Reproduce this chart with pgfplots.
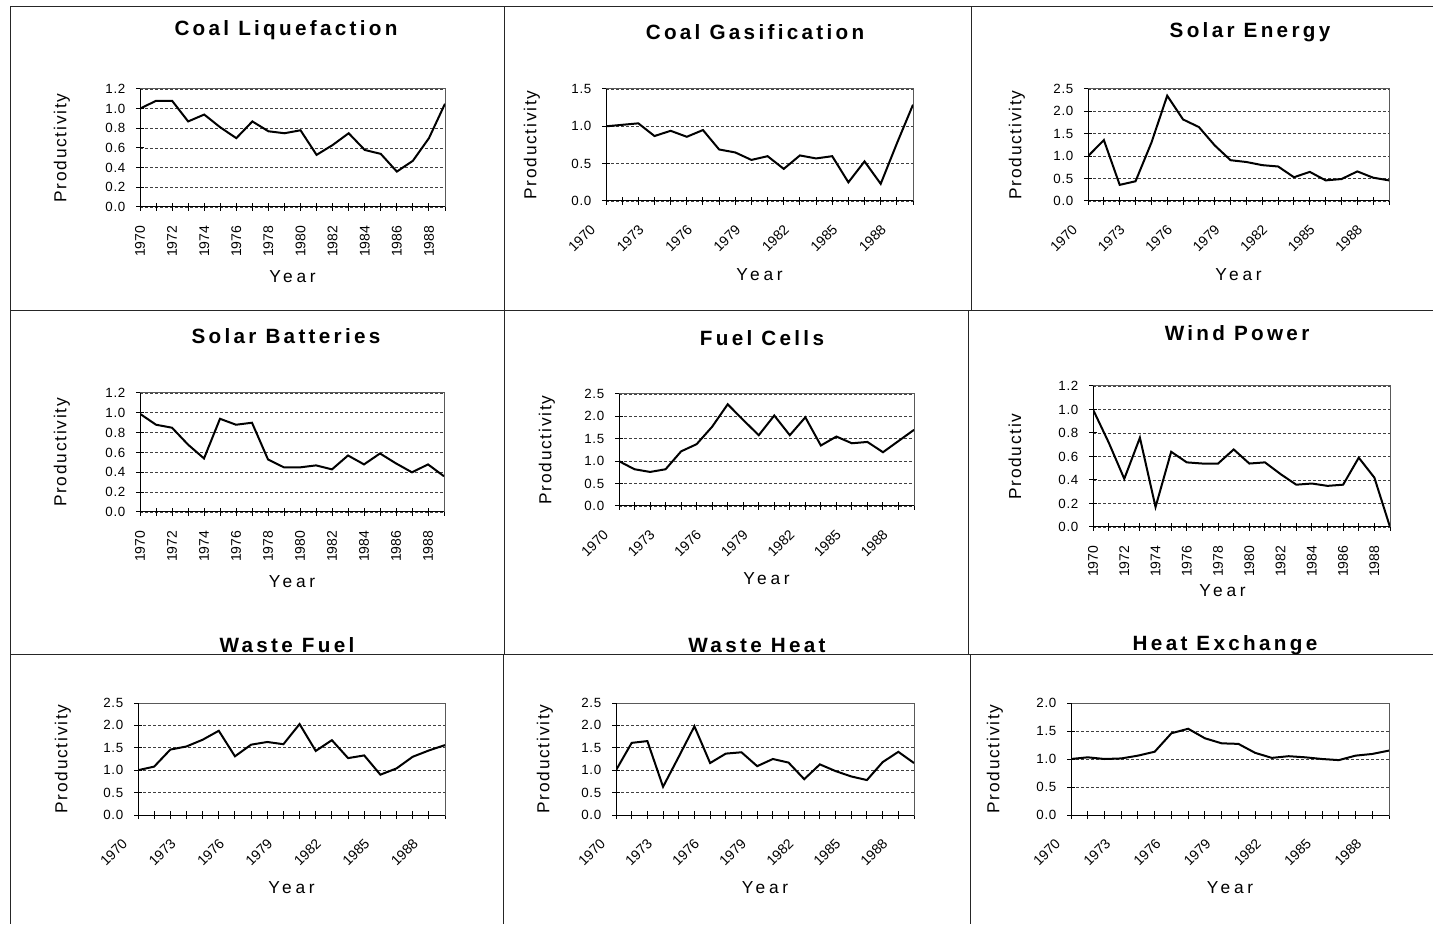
\documentclass[border=0pt]{standalone}
\usepackage{fontspec}
\setmainfont{Liberation Sans}
\newfontfamily\ttlfont[LetterSpace=16]{Liberation Sans}
\newfontfamily\labfont[LetterSpace=10]{Liberation Sans}
\newfontfamily\yearfont[LetterSpace=22]{Liberation Sans}
\newfontfamily\tckfont[LetterSpace=5]{Liberation Sans}
\usepackage{pgfplots}
\pgfplotsset{compat=1.18}
\usetikzlibrary{calc}
\newlength\pxu \setlength\pxu{0.75pt}
\pgfplotsset{
 panel/.style={
  scale only axis, xmin=1970, xmax=1989, ymin=0,
  axis line style={gray!70!black, line width=1\pxu},
  tick align=center, tick pos=left, major tick length=8\pxu, minor tick length=8\pxu,
  every tick/.style={black, line width=1\pxu},
  every minor tick/.style={black, line width=1\pxu},
  ymajorgrids,
  major grid style={black!75, dash pattern=on 3\pxu off 2\pxu, line width=0.8\pxu},
  yticklabel style={font=\tckfont\fontsize{10}{12}\selectfont, xshift=-6\pxu, /pgf/number format/fixed, /pgf/number format/fixed zerofill, /pgf/number format/precision=1, /pgf/number format/assume math mode=true},
  xticklabel style={font=\fontsize{10.5}{12}\selectfont, /pgf/number format/1000 sep={}, /pgf/number format/assume math mode=true},
  ylabel={Productivity}, xlabel={Year},
  ylabel style={font=\labfont\fontsize{13}{15}\selectfont},
  xlabel style={font=\yearfont\fontsize{13}{15}\selectfont},
  cycle list={{black, mark=none}},
  every axis plot/.append style={line width=1.5pt},
 },
 rotA/.style={xticklabel style={xshift=-10\pxu, yshift=-19\pxu, rotate=45, anchor=east}},
 rotB/.style={xticklabel style={yshift=-10\pxu, rotate=90, anchor=east}},
 every2/.style={xtick={1970,1972,...,1988}, minor xtick={1971,1973,...,1989}},
 every3/.style={xtick={1970,1973,...,1988}, minor xtick={1971,1972,1974,1975,1977,1978,1980,1981,1983,1984,1986,1987,1989}},
 ylabx/.style={ylabel style={at={($(axis description cs:0,0.5)+(-#1\pxu,0)$)}, anchor=center}},
 xlaby/.style 2 args={xlabel style={at={($(axis description cs:0.5,0)+(#2\pxu,-#1\pxu)$)}, anchor=center}},
 tA/.style={ytick={0,0.2,0.4,0.6,0.8,1.0,1.2}, ymax=1.2},
 tB/.style={ytick={0,0.5,1.0,1.5,2.0,2.5}},
}
\newcommand{\blackframe}{\draw[black, line width=1\pxu] (rel axis cs:0,1) -- (rel axis cs:0,0) -- (rel axis cs:1,0);}
\begin{document}
\begin{tikzpicture}
\path[use as bounding box] (0,0) rectangle (1433\pxu,924\pxu);
% panel borders
\begin{scope}[line width=1\pxu, black!85]
\draw (10\pxu,917\pxu) -- (1433\pxu,917\pxu);
\draw (10\pxu,613\pxu) -- (1433\pxu,613\pxu);
\draw (10\pxu,269\pxu) -- (1433\pxu,269\pxu);
\draw (10\pxu,917\pxu) -- (10\pxu,0);
\draw (504\pxu,917\pxu) -- (504\pxu,269\pxu);
\draw (503\pxu,269\pxu) -- (503\pxu,0);
\draw (971\pxu,917\pxu) -- (971\pxu,613\pxu);
\draw (968\pxu,613\pxu) -- (968\pxu,269\pxu);
\draw (970\pxu,269\pxu) -- (970\pxu,0);
\end{scope}
% titles
\begin{scope}[every node/.style={font=\ttlfont\bfseries\fontsize{15.5}{18}\selectfont}]
\node at (286\pxu,894\pxu) {Coal Liquefaction};
\node at (755\pxu,892\pxu) {Coal Gasification};
\node at (1250\pxu,892\pxu) {Solar Energy};
\node at (286\pxu,588\pxu) {Solar Batteries};
\node at (762\pxu,586\pxu) {Fuel Cells};
\node at (1237\pxu,591\pxu) {Wind Power};
\node at (287\pxu,279\pxu) {Waste Fuel};
\node at (757\pxu,279\pxu) {Waste Heat};
\node at (1225\pxu,279\pxu) {Heat Exchange};
\end{scope}
% P1 Coal Liquefaction
\begin{axis}[panel, tA, rotB, every2, ylabx=78, xlaby={70}{0}, at={(140\pxu,717\pxu)}, width=305\pxu, height=118\pxu]
\addplot coordinates {(1970,1.00)(1971,1.08)(1972,1.08)(1973,0.87)(1974,0.94)(1975,0.81)(1976,0.70)(1977,0.87)(1978,0.77)(1979,0.75)(1980,0.78)(1981,0.53)(1982,0.63)(1983,0.75)(1984,0.58)(1985,0.54)(1986,0.36)(1987,0.47)(1988,0.70)(1989,1.05)};
\blackframe
\end{axis}
% P2 Coal Gasification
\begin{axis}[panel, ytick={0,0.5,1.0,1.5}, ymax=1.5, rotA, every3, ylabx=74, xlaby={74}{0}, at={(606\pxu,723\pxu)}, width=307\pxu, height=112\pxu]
\addplot coordinates {(1970,1.00)(1971,1.02)(1972,1.04)(1973,0.87)(1974,0.94)(1975,0.86)(1976,0.95)(1977,0.69)(1978,0.65)(1979,0.55)(1980,0.60)(1981,0.43)(1982,0.61)(1983,0.57)(1984,0.60)(1985,0.25)(1986,0.53)(1987,0.23)(1988,0.77)(1989,1.29)};
\blackframe
\end{axis}
% P3 Solar Energy
\begin{axis}[panel, tB, ymax=2.5, rotA, every3, ylabx=71, xlaby={74}{0}, at={(1088\pxu,723\pxu)}, width=301\pxu, height=112\pxu]
\addplot coordinates {(1970,1.00)(1971,1.36)(1972,0.36)(1973,0.44)(1974,1.30)(1975,2.35)(1976,1.82)(1977,1.65)(1978,1.24)(1979,0.91)(1980,0.87)(1981,0.80)(1982,0.77)(1983,0.53)(1984,0.65)(1985,0.46)(1986,0.49)(1987,0.66)(1988,0.52)(1989,0.46)};
\blackframe
\end{axis}
% P4 Solar Batteries
\begin{axis}[panel, tA, rotB, every2, ylabx=78, xlaby={70}{0}, at={(140\pxu,412\pxu)}, width=304\pxu, height=119\pxu]
\addplot coordinates {(1970,0.99)(1971,0.88)(1972,0.85)(1973,0.68)(1974,0.54)(1975,0.94)(1976,0.88)(1977,0.90)(1978,0.53)(1979,0.45)(1980,0.45)(1981,0.47)(1982,0.43)(1983,0.57)(1984,0.48)(1985,0.59)(1986,0.49)(1987,0.40)(1988,0.48)(1989,0.36)};
\blackframe
\end{axis}
% P5 Fuel Cells
\begin{axis}[panel, tB, ymax=2.5, rotA, every3, ylabx=72, xlaby={73}{0}, at={(619\pxu,418\pxu)}, width=295\pxu, height=112\pxu]
\addplot coordinates {(1970,1.00)(1971,0.82)(1972,0.76)(1973,0.82)(1974,1.22)(1975,1.38)(1976,1.77)(1977,2.27)(1978,1.92)(1979,1.58)(1980,2.02)(1981,1.58)(1982,1.98)(1983,1.35)(1984,1.55)(1985,1.40)(1986,1.43)(1987,1.20)(1988,1.45)(1989,1.70)};
\blackframe
\end{axis}
% P6 Wind Power
\begin{axis}[panel, tA, rotB, every2, ylabel={Productiv}, ylabx=78, xlaby={64}{-19}, at={(1093\pxu,397\pxu)}, width=297\pxu, height=141\pxu]
\addplot coordinates {(1970,1.00)(1971,0.72)(1972,0.41)(1973,0.76)(1974,0.17)(1975,0.64)(1976,0.55)(1977,0.54)(1978,0.54)(1979,0.66)(1980,0.54)(1981,0.55)(1982,0.45)(1983,0.36)(1984,0.37)(1985,0.35)(1986,0.36)(1987,0.59)(1988,0.42)(1989,0.00)};
\blackframe
\end{axis}
% P7 Waste Fuel
\begin{axis}[panel, tB, ymax=2.5, rotA, every3, ylabx=75, xlaby={73}{0}, at={(138\pxu,109\pxu)}, width=307\pxu, height=112\pxu]
\addplot coordinates {(1970,1.00)(1971,1.08)(1972,1.46)(1973,1.53)(1974,1.68)(1975,1.88)(1976,1.31)(1977,1.57)(1978,1.63)(1979,1.58)(1980,2.03)(1981,1.43)(1982,1.67)(1983,1.27)(1984,1.33)(1985,0.90)(1986,1.04)(1987,1.30)(1988,1.44)(1989,1.56)};
\blackframe
\end{axis}
% P8 Waste Heat
\begin{axis}[panel, tB, ymax=2.5, rotA, every3, ylabx=71, xlaby={73}{0}, at={(616\pxu,109\pxu)}, width=298\pxu, height=112\pxu]
\addplot coordinates {(1970,1.00)(1971,1.61)(1972,1.65)(1973,0.63)(1974,1.30)(1975,1.98)(1976,1.16)(1977,1.37)(1978,1.40)(1979,1.09)(1980,1.25)(1981,1.17)(1982,0.80)(1983,1.13)(1984,0.98)(1985,0.86)(1986,0.78)(1987,1.18)(1988,1.41)(1989,1.16)};
\blackframe
\end{axis}
% P9 Heat Exchange
\begin{axis}[panel, ytick={0,0.5,1.0,1.5,2.0}, ymax=2.0, rotA, every3, ylabx=76, xlaby={73}{0}, at={(1071\pxu,109\pxu)}, width=318\pxu, height=112\pxu]
\addplot coordinates {(1970,1.00)(1971,1.03)(1972,1.00)(1973,1.01)(1974,1.06)(1975,1.13)(1976,1.46)(1977,1.54)(1978,1.37)(1979,1.28)(1980,1.27)(1981,1.11)(1982,1.02)(1983,1.05)(1984,1.03)(1985,1.00)(1986,0.98)(1987,1.06)(1988,1.09)(1989,1.15)};
\blackframe
\end{axis}
\end{tikzpicture}
\end{document}
